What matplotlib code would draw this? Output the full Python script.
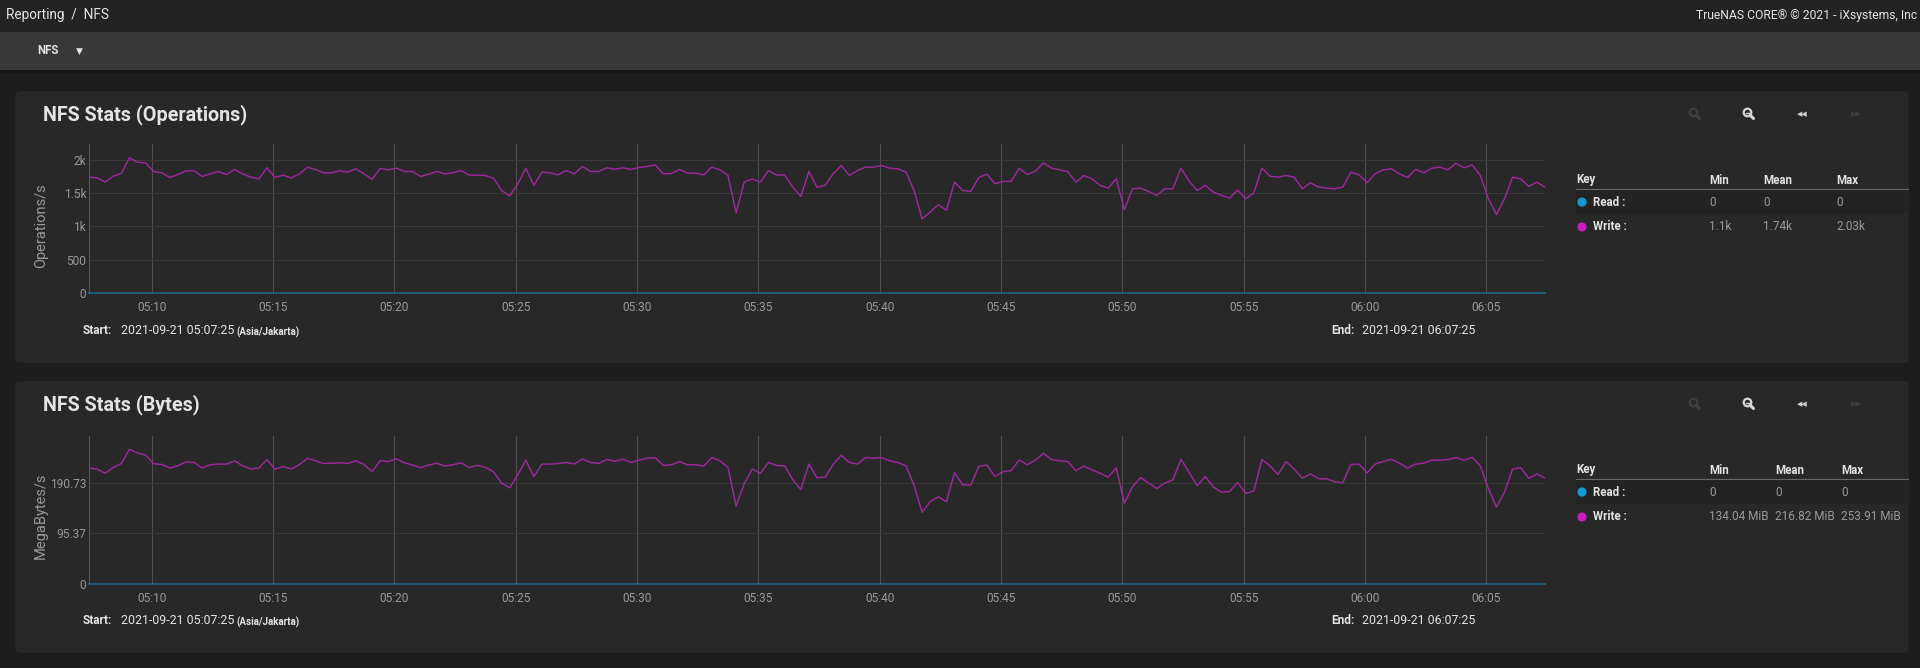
import matplotlib
matplotlib.use('Agg')
import matplotlib.pyplot as plt
import matplotlib.dates as mdates
import matplotlib.patches as mpatches
import pandas as pd

plt.rcParams['font.family'] = ['Roboto', 'DejaVu Sans']

# time axis: one sample every 20 s over the hour
start = pd.Timestamp('2021-09-21 05:07:25')
end = pd.Timestamp('2021-09-21 06:07:25')
times = pd.date_range(start, end, freq='20s')

# NFS operations/s (write)
ops_write = [
    1736, 1726, 1662, 1751, 1791, 2025, 1960, 1950, 1821, 1801,
    1731, 1776, 1831, 1831, 1746, 1786, 1821, 1776, 1851, 1786,
    1736, 1711, 1876, 1731, 1766, 1726, 1781, 1886, 1851, 1801,
    1801, 1831, 1811, 1861, 1786, 1705, 1866, 1846, 1871, 1821,
    1821, 1746, 1781, 1821, 1786, 1801, 1836, 1766, 1766, 1761,
    1721, 1537, 1455, 1632, 1871, 1612, 1811, 1801, 1771, 1836,
    1786, 1896, 1821, 1821, 1876, 1856, 1876, 1851, 1881, 1896,
    1920, 1786, 1790, 1850, 1796, 1796, 1771, 1886, 1846, 1761,
    1200, 1662, 1711, 1662, 1836, 1766, 1771, 1587, 1448, 1821,
    1587, 1612, 1786, 1910, 1761, 1836, 1886, 1886, 1910, 1871,
    1861, 1811, 1537, 1110, 1214, 1323, 1239, 1662, 1537, 1522,
    1730, 1781, 1637, 1672, 1672, 1871, 1776, 1826, 1950, 1871,
    1846, 1821, 1662, 1761, 1711, 1612, 1572, 1711, 1250, 1562,
    1572, 1522, 1463, 1562, 1562, 1871, 1677, 1537, 1612, 1512,
    1463, 1423, 1542, 1413, 1500, 1871, 1750, 1736, 1761, 1736,
    1562, 1652, 1587, 1572, 1562, 1587, 1811, 1771, 1652, 1786,
    1846, 1861, 1786, 1731, 1851, 1801, 1871, 1886, 1846, 1945,
    1876, 1920, 1761, 1413, 1174, 1413, 1736, 1711, 1597, 1662,
    1587,
]
ops_read = [0] * len(times)

# NFS MiB/s (write)
bytes_write = [
    218.4, 216.6, 208.6, 219.6, 227.0, 253.5, 246.7, 243.0, 226.4, 225.2,
    218.4, 222.7, 230.1, 228.9, 218.4, 224.6, 225.8, 225.8, 232.0, 222.7,
    216.6, 218.4, 234.4, 216.0, 221.5, 216.6, 224.6, 236.9, 232.0, 227.0,
    227.6, 228.3, 227.0, 232.0, 225.2, 211.6, 232.0, 230.7, 235.6, 228.3,
    224.0, 219.0, 224.0, 227.6, 222.1, 224.6, 228.3, 219.6, 223.3, 219.6,
    211.6, 190.1, 181.0, 205.5, 233.2, 202.4, 225.8, 225.8, 227.0, 228.9,
    226.0, 235.6, 228.9, 227.0, 234.4, 231.3, 235.0, 228.9, 233.2, 236.9,
    238.0, 223.3, 224.6, 230.7, 224.6, 224.6, 222.1, 238.1, 232.0, 219.6,
    147.0, 188.9, 216.6, 208.6, 228.9, 223.3, 222.7, 196.3, 177.8, 225.8,
    200.0, 201.2, 225.2, 242.4, 228.9, 225.8, 238.1, 236.9, 238.1, 232.0,
    228.9, 222.7, 185.8, 135.0, 155.0, 164.3, 155.0, 209.8, 187.0, 185.8,
    221.5, 224.0, 202.4, 211.6, 213.5, 233.8, 224.6, 233.2, 246.1, 234.4,
    232.0, 230.7, 213.5, 222.1, 214.7, 208.6, 201.2, 218.4, 152.0, 182.7,
    200.6, 190.1, 179.7, 190.1, 196.3, 235.0, 210.4, 185.2, 202.4, 182.7,
    172.9, 174.1, 191.3, 170.4, 175.0, 234.4, 222.7, 206.1, 230.7, 215.9,
    199.3, 207.3, 198.1, 198.1, 192.6, 190.7, 225.2, 225.8, 209.2, 225.8,
    230.7, 235.0, 227.6, 218.4, 225.8, 227.6, 233.2, 233.2, 234.4, 238.1,
    233.2, 238.7, 222.7, 179.7, 145.0, 173.5, 216.6, 219.0, 199.3, 207.3,
    199.3,
]
bytes_read = [0] * len(times)

ops_ticks = [0, 500, 1000, 1500, 2000]
ops_tick_labels = ['0', '500', '1k', '1.5k', '2k']
bytes_ticks = [0, 95.37, 190.73]
bytes_tick_labels = ['0', '95.37', '190.73']

ops_stats = {'Read': ['0', '0', '0'], 'Write': ['1.1k', '1.74k', '2.03k']}
bytes_stats = {'Read': ['0', '0', '0'],
               'Write': ['134.04 MiB', '216.82 MiB', '253.91 MiB']}

READ_COLOR = '#1598d6'
WRITE_COLOR = '#c51ec5'
LINE_WRITE = '#9a2a9a'
TXT = '#e4e4e4'
DIM = '#9a9a9a'

W, H = 1920, 668
fig = plt.figure(figsize=(W / 100, H / 100), dpi=100)
fig.patch.set_facecolor('#1d1d1d')

# background layer in pixel coordinates
bg = fig.add_axes([0, 0, 1, 1])
bg.set_xlim(0, W)
bg.set_ylim(H, 0)
bg.axis('off')

bg.add_patch(mpatches.Rectangle((0, 0), W, 32, color='#232323', lw=0))
bg.add_patch(mpatches.Rectangle((0, 32), W, 38, color='#383838', lw=0))
bg.add_patch(mpatches.Rectangle((0, 70), W, 3, color='#161616', lw=0))
bg.text(6, 15, 'Reporting  /  NFS', color=TXT, fontsize=9.8, va='center')
bg.text(1917, 15, 'TrueNAS CORE® © 2021 - iXsystems, Inc', color=TXT,
        fontsize=8.7, va='center', ha='right')
bg.text(37, 51, 'NFS', color=TXT, fontsize=8.3, fontweight='bold', va='center')
bg.text(79, 51, '▼', color=TXT, fontsize=6.5, va='center', ha='center',
        family=['DejaVu Sans'])


def magnifier(x, y, color, minus=False):
    bg.add_patch(mpatches.Circle((x - 1.5, y - 1.5), 3.8, fill=False,
                                 ec=color, lw=1.6))
    bg.plot([x + 1.2, x + 4.5], [y + 1.2, y + 4.5], color=color, lw=2.2,
            solid_capstyle='round')
    if minus:
        bg.plot([x - 3.5, x + 0.5], [y - 1.5, y - 1.5], color=color, lw=1.0)


def panel(top, title, ylabel, stats, cols):
    bg.add_patch(mpatches.FancyBboxPatch(
        (16, top), 1892, 270, boxstyle='round,pad=0,rounding_size=4',
        fc='#282828', ec='#2c2c2c', lw=0.8))
    bg.text(43, top + 23, title, color=TXT, fontsize=14.2, fontweight='bold',
            va='center')
    # toolbar icons
    iy = top + 22
    magnifier(1695, iy, '#3e3e3e')
    magnifier(1749, iy, '#d8d8d8', minus=True)
    bg.text(1802, iy, '◀◀', color='#d0d0d0', fontsize=5, ha='center',
            va='center', family=['DejaVu Sans'])
    bg.text(1856, iy, '▶▶', color='#3e3e3e', fontsize=5, ha='center',
            va='center', family=['DejaVu Sans'])
    # y label
    bg.text(41, top + 134, ylabel, color=DIM, fontsize=10.5, rotation=90,
            ha='center', va='center')
    # start / end
    sy = top + 239
    bg.text(83, sy, 'Start:', color=TXT, fontsize=8.6, fontweight='bold', va='center')
    bg.text(121, sy, '2021-09-21 05:07:25', color=TXT, fontsize=8.9, va='center')
    bg.text(236, sy + 1, '(Asia/Jakarta)', color=TXT, fontsize=7,
            fontweight='bold', va='center')
    bg.text(1331, sy, 'End:', color=TXT, fontsize=8.6, fontweight='bold', va='center')
    bg.text(1362, sy, '2021-09-21 06:07:25', color=TXT, fontsize=8.9, va='center')
    # legend table
    ky = top + 88
    bg.text(1576, ky, 'Key', color=TXT, fontsize=8.3, fontweight='bold', va='center')
    for cx, name in zip(cols, ['Min', 'Mean', 'Max']):
        bg.text(cx, ky, name, color=TXT, fontsize=8.3, fontweight='bold', va='center')
    bg.plot([1576, 1908], [ky + 9, ky + 9], color='#6a6a6a', lw=0.8)
    bg.add_patch(mpatches.Rectangle((1576, ky + 10), 332, 24, color='#232323', lw=0))
    for i, (name, color) in enumerate([('Read', READ_COLOR), ('Write', WRITE_COLOR)]):
        ry = ky + 22 + 25 * i
        bg.add_patch(mpatches.Circle((1582, ry), 4.6, color=color, lw=0))
        bg.text(1593, ry, name + ' :', color=TXT, fontsize=8.3, fontweight='bold',
                va='center')
        for cx, val in zip(cols, stats[name]):
            bg.text(cx, ry, val, color=DIM, fontsize=8.5, va='center')


panel(92, 'NFS Stats (Operations)', 'Operations/s', ops_stats, [1709, 1763, 1836])
panel(382, 'NFS Stats (Bytes)', 'MegaBytes/s', bytes_stats, [1709, 1775, 1841])


def chart(rect, write, read, ymax, ticks, labels):
    ax = fig.add_axes(rect)
    ax.set_facecolor('none')
    ax.plot(times, write, color=LINE_WRITE, lw=1.05, zorder=3)
    ax.plot(times, read, color=READ_COLOR, lw=1.3, alpha=0.5, zorder=3,
            clip_on=False)
    ax.set_xlim(times[0], times[-1])
    ax.set_ylim(0, ymax)
    ax.xaxis.set_major_locator(mdates.MinuteLocator(byminute=range(0, 60, 5)))
    ax.xaxis.set_major_formatter(mdates.DateFormatter('%H:%M'))
    ax.set_yticks(ticks, labels)
    ax.grid(axis='y', color='#393939', lw=0.8)
    ax.grid(axis='x', color='#4e4e4e', lw=0.8)
    for s in ['top', 'right', 'bottom']:
        ax.spines[s].set_visible(False)
    ax.spines['left'].set_color('#555555')
    ax.tick_params(axis='both', length=0, colors=DIM, labelsize=8.6)
    ax.tick_params(axis='x', pad=6)
    ax.tick_params(axis='y', pad=2)
    return ax


chart([89 / W, 1 - 293 / H, 1456 / W, 149 / H], ops_write, ops_read,
      2233, ops_ticks, ops_tick_labels)
chart([89 / W, 1 - 584 / H, 1456 / W, 148.3 / H], bytes_write, bytes_read,
      279.3, bytes_ticks, bytes_tick_labels)

fig.savefig('out.png', dpi=100, facecolor=fig.get_facecolor())
